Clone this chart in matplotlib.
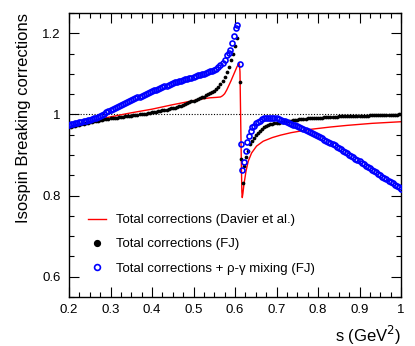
import numpy as np
import matplotlib
matplotlib.use("Agg")
import matplotlib.pyplot as plt
from matplotlib.lines import Line2D
from matplotlib.ticker import MultipleLocator, FuncFormatter

plt.rcParams['font.family'] = ['Liberation Sans', 'DejaVu Sans']

s_left = np.round(np.arange(0.200, 0.5801, 0.005), 3)
s_right = np.round(np.arange(0.645, 1.0001, 0.005), 3)

# Total corrections (FJ) - black dots
fj_left = [0.968, 0.970, 0.971, 0.972, 0.973, 0.975, 0.976, 0.977, 0.978, 0.980,
           0.981, 0.982, 0.983, 0.984, 0.985, 0.986, 0.987, 0.988, 0.989, 0.989,
           0.990, 0.991, 0.992, 0.992, 0.993, 0.994, 0.994, 0.995, 0.996, 0.996,
           0.997, 0.998, 0.998, 0.999, 1.000, 1.001, 1.002, 1.002, 1.003, 1.004,
           1.005, 1.006, 1.007, 1.008, 1.009, 1.010, 1.011, 1.012, 1.014, 1.015,
           1.016, 1.017, 1.019, 1.020, 1.022, 1.024, 1.026, 1.028, 1.030, 1.032,
           1.034, 1.036, 1.038, 1.040, 1.042, 1.044, 1.047, 1.050, 1.052, 1.055,
           1.058, 1.062, 1.067, 1.074, 1.083, 1.093, 1.105]
fj_res_s = [0.585, 0.590, 0.595, 0.600, 0.605, 0.6115, 0.615, 0.619, 0.6225,
            0.6265, 0.6305, 0.636, 0.640]
fj_res = [1.118, 1.133, 1.150, 1.168, 1.188, 1.080, 0.889, 0.832, 0.872,
          0.894, 0.910, 0.926, 0.934]
fj_right = [0.942, 0.949, 0.955, 0.960, 0.964, 0.968, 0.971, 0.974, 0.976, 0.977,
            0.978, 0.979, 0.980, 0.981, 0.982, 0.983, 0.984, 0.985, 0.985, 0.986,
            0.987, 0.987, 0.988, 0.988, 0.989, 0.989, 0.990, 0.990, 0.991, 0.991,
            0.991, 0.992, 0.992, 0.992, 0.993, 0.993, 0.993, 0.994, 0.994, 0.994,
            0.994, 0.995, 0.995, 0.995, 0.995, 0.996, 0.996, 0.996, 0.996, 0.996,
            0.997, 0.997, 0.997, 0.997, 0.997, 0.997, 0.998, 0.998, 0.998, 0.998,
            0.998, 0.998, 0.998, 0.999, 0.999, 0.999, 0.999, 0.999, 0.999, 0.999,
            1.000, 1.000]

# Total corrections + rho-gamma mixing (FJ) - blue open circles
mix_left = [0.975, 0.976, 0.977, 0.978, 0.980, 0.981, 0.982, 0.983, 0.985, 0.986,
            0.987, 0.988, 0.990, 0.992, 0.994, 0.996, 0.999, 1.002, 1.005, 1.008,
            1.011, 1.014, 1.016, 1.019, 1.021, 1.023, 1.026, 1.028, 1.030, 1.033,
            1.035, 1.037, 1.040, 1.042, 1.044, 1.046, 1.048, 1.051, 1.053, 1.055,
            1.057, 1.059, 1.061, 1.063, 1.065, 1.067, 1.069, 1.071, 1.073, 1.075,
            1.077, 1.079, 1.080, 1.082, 1.083, 1.085, 1.087, 1.088, 1.090, 1.091,
            1.093, 1.094, 1.096, 1.097, 1.099, 1.100, 1.102, 1.104, 1.106, 1.108,
            1.110, 1.113, 1.117, 1.121, 1.127, 1.135, 1.146]
mix_res_s = [0.585, 0.589, 0.5935, 0.5975, 0.602, 0.6055, 0.611, 0.6145, 0.618,
             0.621, 0.6265, 0.630, 0.634, 0.638, 0.642]
mix_res = [1.152, 1.160, 1.177, 1.193, 1.214, 1.220, 1.125, 0.926, 0.864,
           0.882, 0.910, 0.932, 0.946, 0.959, 0.968]
mix_right = [0.972, 0.978, 0.982, 0.985, 0.988, 0.990, 0.991, 0.992, 0.992, 0.992,
             0.991, 0.990, 0.989, 0.987, 0.985, 0.983, 0.981, 0.979, 0.977, 0.975,
             0.973, 0.971, 0.969, 0.967, 0.964, 0.962, 0.960, 0.957, 0.955, 0.952,
             0.950, 0.947, 0.944, 0.941, 0.938, 0.935, 0.933, 0.930, 0.927, 0.924,
             0.920, 0.917, 0.914, 0.911, 0.908, 0.904, 0.901, 0.898, 0.894, 0.891,
             0.888, 0.884, 0.881, 0.878, 0.874, 0.871, 0.868, 0.864, 0.861, 0.857,
             0.854, 0.851, 0.847, 0.844, 0.841, 0.837, 0.834, 0.831, 0.827, 0.824,
             0.821, 0.817]

# Total corrections (Davier et al.) - red line
dav_s = [0.20, 0.25, 0.30, 0.35, 0.40, 0.45, 0.50, 0.52, 0.54, 0.555, 0.565,
         0.570, 0.575, 0.580, 0.585, 0.590, 0.595, 0.600, 0.605, 0.609, 0.6105,
         0.612, 0.6135, 0.615, 0.6165, 0.6175, 0.619, 0.6215, 0.6265, 0.632,
         0.640, 0.652, 0.668, 0.690, 0.710, 0.735, 0.780, 0.830, 0.870, 0.930, 1.00]
dav = [0.968, 0.982, 0.994, 1.004, 1.013, 1.024, 1.034, 1.038, 1.041, 1.042, 1.043,
       1.046, 1.051, 1.060, 1.071, 1.082, 1.094, 1.106, 1.118, 1.124, 1.125,
       1.105, 1.000, 0.900, 0.810, 0.795, 0.805, 0.827, 0.860, 0.885,
       0.905, 0.922, 0.934, 0.943, 0.949, 0.955, 0.963, 0.969, 0.973, 0.978, 0.982]

fj_s = np.concatenate([s_left, fj_res_s, s_right])
fj_v = np.concatenate([fj_left, fj_res, fj_right])
mix_s = np.concatenate([s_left, mix_res_s, s_right])
mix_v = np.concatenate([mix_left, mix_res, mix_right])

fig = plt.figure(figsize=(4.15, 3.46), dpi=100)
ax = fig.add_axes([69 / 415, 1 - 297 / 346, 332 / 415, 284 / 346])

ax.axhline(1.0, color='black', ls=(0, (1, 1.5)), lw=0.8, zorder=1)
ax.plot(dav_s, dav, color='red', lw=1.0, zorder=2)
ax.plot(fj_s, fj_v, ls='none', marker='o', ms=2.7, mfc='black', mec='black',
        mew=0, zorder=3)
ax.plot(mix_s, mix_v, ls='none', marker='o', ms=3.6, mfc='none', mec='blue',
        mew=1.2, zorder=4)

ax.set_xlim(0.2, 1.0)
ax.set_ylim(0.55, 1.25)
ax.xaxis.set_major_locator(MultipleLocator(0.1))
ax.xaxis.set_minor_locator(MultipleLocator(0.025))
ax.yaxis.set_major_locator(MultipleLocator(0.2))
ax.yaxis.set_minor_locator(MultipleLocator(0.05))
fmt = FuncFormatter(lambda v, p: '%g' % round(v, 3))
ax.xaxis.set_major_formatter(fmt)
ax.yaxis.set_major_formatter(fmt)
ax.tick_params(which='both', direction='in', top=True, right=True, width=0.8,
               labelsize=9.5)
ax.tick_params(which='major', length=7.5)
ax.tick_params(which='minor', length=3.8)
ax.tick_params(axis='x', pad=5)
ax.tick_params(axis='y', pad=6)
for sp in ax.spines.values():
    sp.set_linewidth(1.0)

ax.set_xlabel('s (GeV$^2$)', loc='right', fontsize=12, labelpad=6)
ax.set_ylabel('Isospin Breaking corrections', loc='top', fontsize=12, labelpad=8)

handles = [Line2D([], [], color='red', lw=1.0),
           Line2D([], [], ls='none', marker='o', ms=4.2, mfc='black', mec='black'),
           Line2D([], [], ls='none', marker='o', ms=4.2, mfc='none', mec='blue',
                  mew=1.2)]
labels = ['Total corrections (Davier et al.)',
          'Total corrections (FJ)',
          'Total corrections + \u03c1-\u03b3 mixing (FJ)']
ax.legend(handles, labels, loc='upper left', bbox_to_anchor=(0.057, 0.292),
          frameon=False, fontsize=9.5, handlelength=1.4, handletextpad=0.75,
          labelspacing=0.9, borderpad=0, borderaxespad=0)

fig.savefig('out.png', dpi=100)
